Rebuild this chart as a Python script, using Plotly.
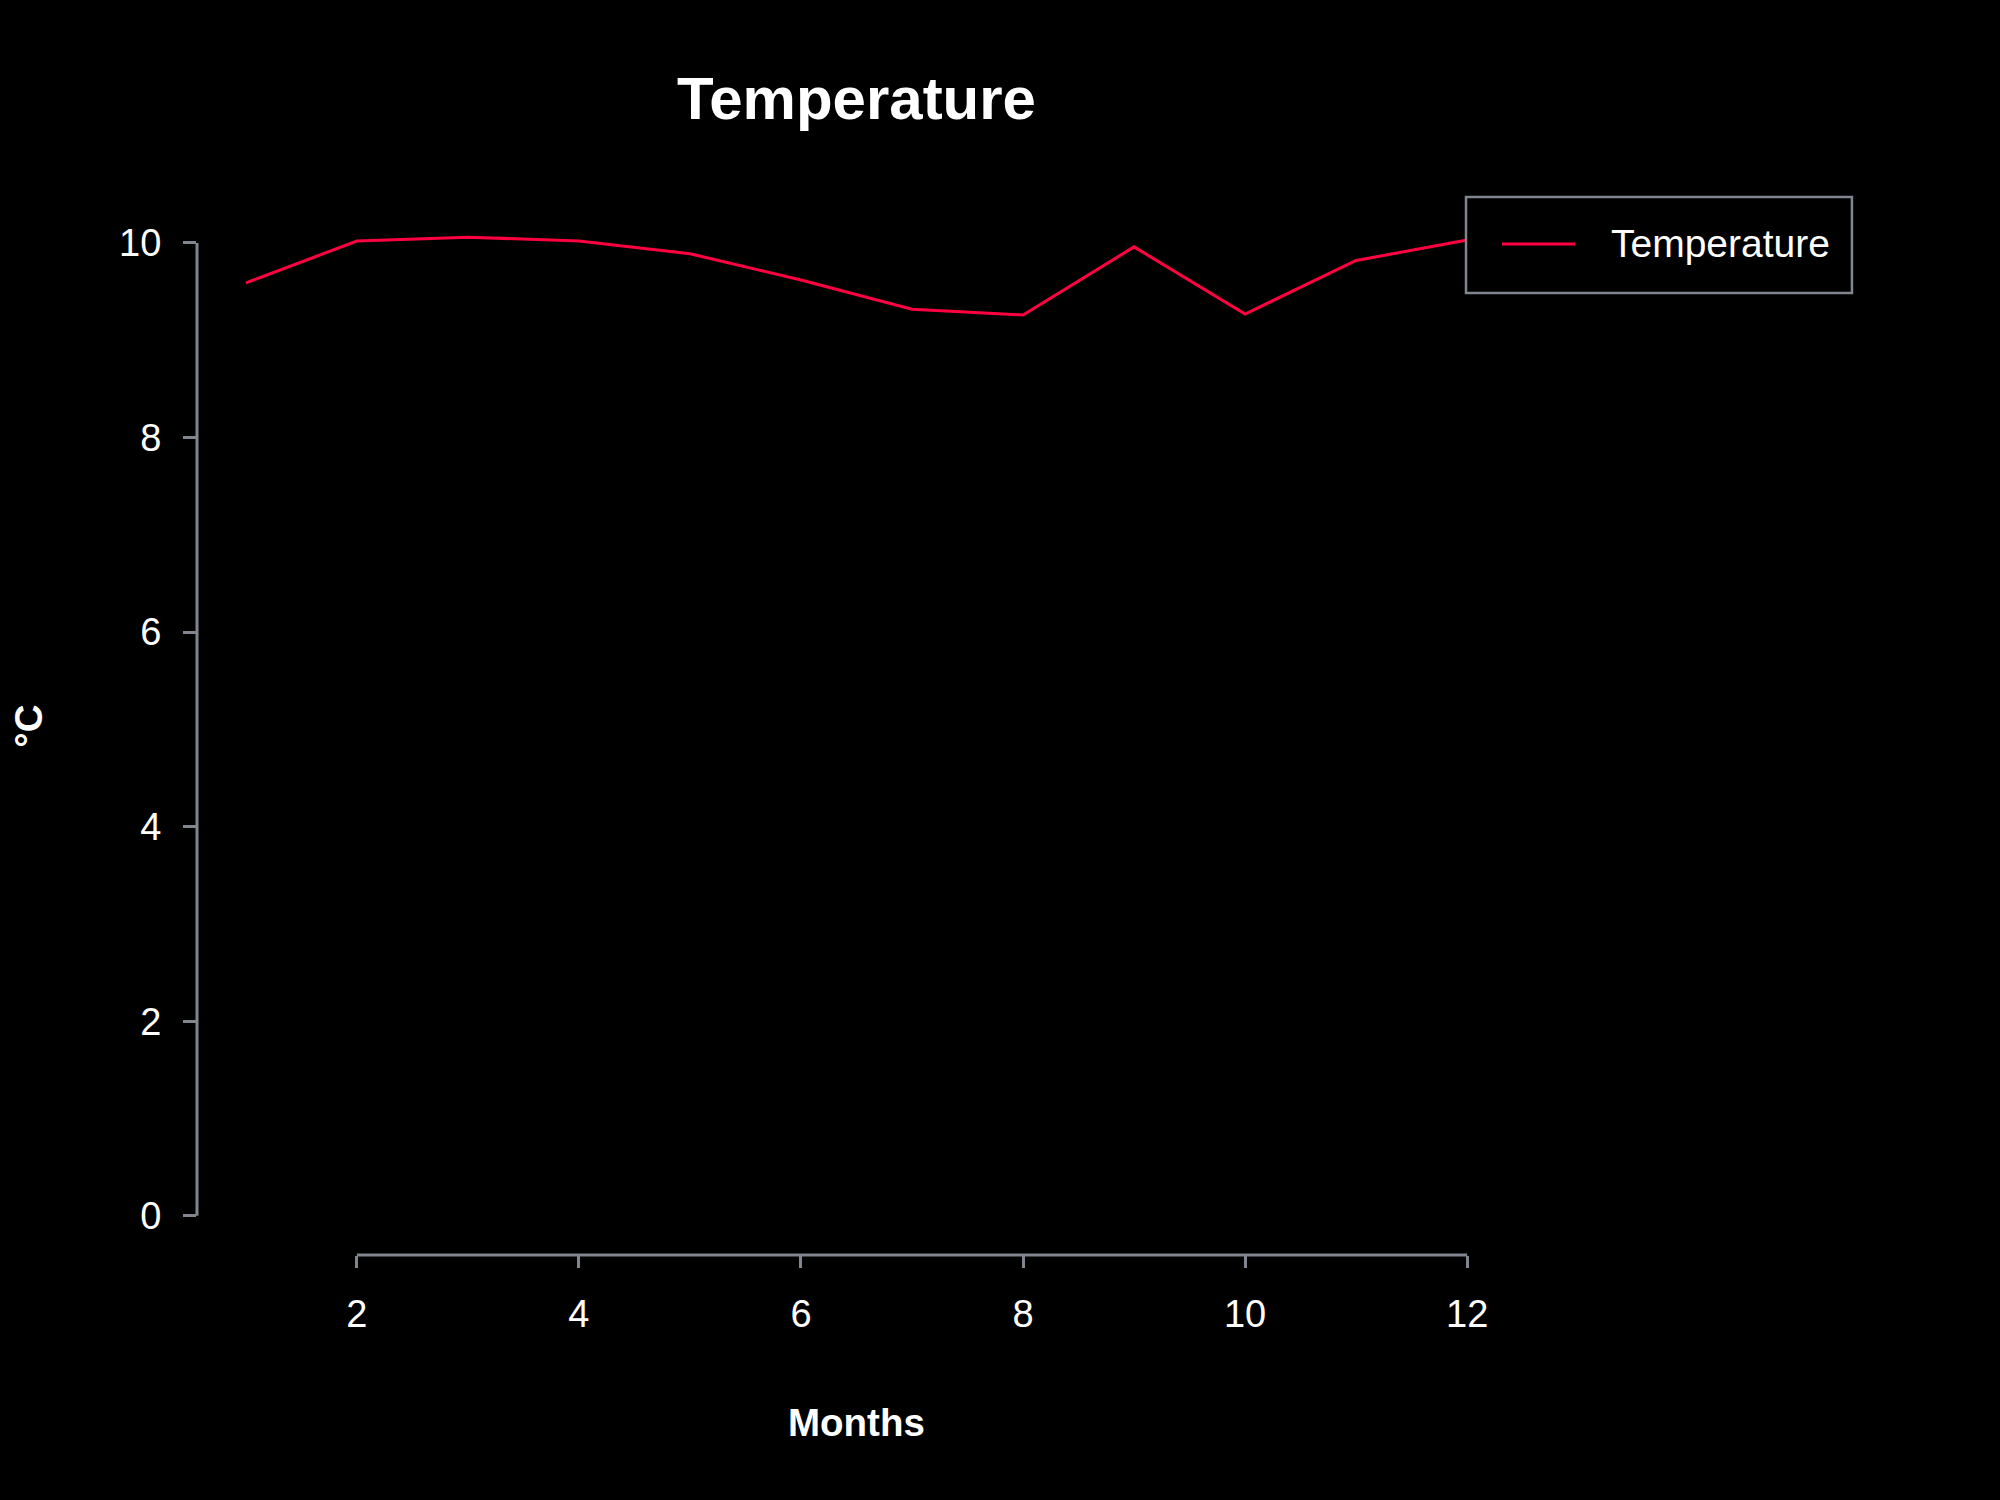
import plotly.graph_objects as go

# monthly values
months = [1, 2, 3, 4, 5, 6, 7, 8, 9, 10, 11, 12]
temperature = [9.59, 10.02, 10.06, 10.02, 9.89, 9.62, 9.32, 9.26, 9.96, 9.27, 9.82, 10.03]
x_ticks = [2, 4, 6, 8, 10, 12]
y_ticks = [0, 2, 4, 6, 8, 10]
series_name = "Temperature"

axis_grey = "#80858f"
line_red = "#ff0040"
font_family = "Liberation Sans, Arial, sans-serif"

fig = go.Figure()

fig.add_trace(go.Scatter(
    x=months,
    y=temperature,
    mode="lines",
    name=series_name,
    line=dict(color=line_red, width=3),
    showlegend=False,
))

# R-style detached axis lines, spanning only the tick range
fig.add_shape(type="line", xref="paper", yref="y", x0=0, x1=0,
              y0=y_ticks[0], y1=y_ticks[-1], line=dict(color=axis_grey, width=3))
fig.add_shape(type="line", xref="x", yref="paper", x0=x_ticks[0], x1=x_ticks[-1],
              y0=0, y1=0, line=dict(color=axis_grey, width=3))

# legend box drawn like base R's legend(): border, line sample, label
fig.add_shape(type="rect", xref="paper", yref="paper",
              x0=0.9621, x1=1.2547, y0=0.9101, y1=1.0009,
              line=dict(color=axis_grey, width=2.5), fillcolor="black")
fig.add_shape(type="line", xref="paper", yref="paper",
              x0=0.9894, x1=1.0447, y0=0.9565, y1=0.9565,
              line=dict(color=line_red, width=3))

fig.update_layout(
    width=2000,
    height=1500,
    paper_bgcolor="black",
    plot_bgcolor="black",
    margin=dict(l=197, r=484, t=198, b=245),
    font=dict(family=font_family, color="white", size=38),
    title=dict(
        text="<b>Temperature</b>",
        x=0.5, xref="paper", xanchor="center",
        y=1 - 97.5 / 1500, yref="container", yanchor="middle",
        font=dict(size=60, color="white", family=font_family),
    ),
    xaxis=dict(
        range=[0.56, 12.44],
        tickvals=x_ticks,
        ticks="outside", ticklen=12, tickwidth=3, tickcolor=axis_grey,
        showline=False, showgrid=False, zeroline=False,
        ticklabelstandoff=13,
        tickfont=dict(size=38, color="white"),
    ),
    yaxis=dict(
        range=[-0.4024, 10.4624],
        tickvals=y_ticks,
        ticks="outside", ticklen=13, tickwidth=3, tickcolor=axis_grey,
        showline=False, showgrid=False, zeroline=False,
        ticklabelstandoff=14,
        tickfont=dict(size=38, color="white"),
    ),
    showlegend=False,
    annotations=[
        dict(text="<b>Months</b>", xref="paper", yref="paper", x=0.5, y=-0.158,
             xanchor="center", yanchor="middle", showarrow=False,
             font=dict(size=38.5, color="white")),
        dict(text="<b>°C</b>", xref="paper", yref="paper", x=-0.128, y=0.5,
             xanchor="center", yanchor="middle", textangle=-90, showarrow=False,
             font=dict(size=38.5, color="white")),
        dict(text=series_name, xref="paper", yref="paper", x=1.0705, y=0.9565,
             xanchor="left", yanchor="middle", showarrow=False,
             font=dict(size=39, color="white")),
    ],
)

# drop the browser's default body margin so the figure sits at (0, 0)
fig.write_html(
    "out.html",
    config={"displayModeBar": False},
    post_script="document.body.style.margin='0';document.body.style.background='black';",
)
